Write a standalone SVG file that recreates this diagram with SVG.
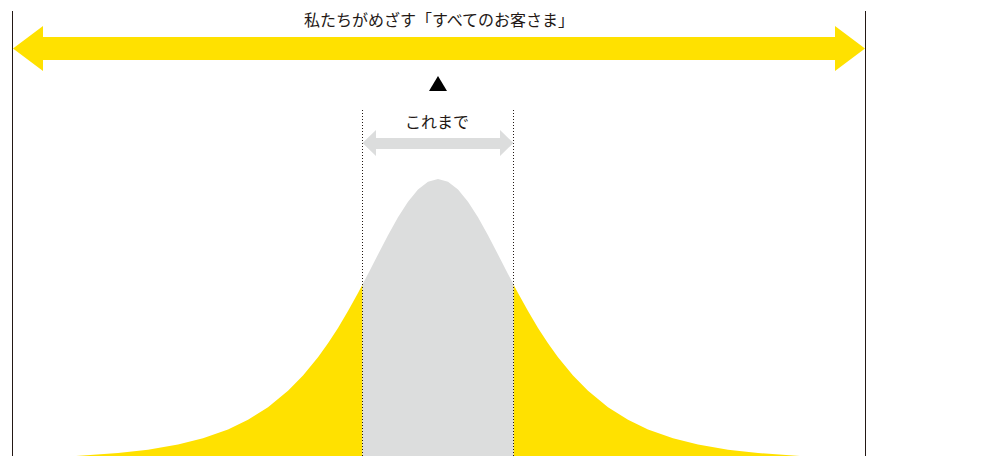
<svg xmlns="http://www.w3.org/2000/svg" width="1005" height="456" viewBox="0 0 1005 456">
<style>
.lbl{font-family:"Noto Sans CJK JP","Noto Sans",sans-serif;font-size:16px;fill:#231815;text-anchor:middle}
.frame{stroke:#231815;stroke-width:1;fill:none}
.dot{stroke:#231815;stroke-width:1;stroke-dasharray:1 2;fill:none}
</style>
<defs>
<path id="bell" d="M76,456 L118,453.08 L148,449.67 L178,444.51 L203,438.23 L228,429.38 L248,419.76 L268,407.18 L288,390.83 L303,375.55 L318,357.29 L328,343.32 L338,327.88 L348,311.03 L358,292.93 L368,273.9 L378,254.45 L388,235.28 L398,217.37 L408,201.67 L418,189.48 L428,181.66 L438,179 L448,181.66 L458,189.48 L468,201.67 L478,217.37 L488,235.28 L498,254.45 L508,273.9 L518,292.93 L528,311.03 L538,327.88 L548,343.32 L558,357.29 L573,375.55 L588,390.83 L608,407.18 L628,419.76 L648,429.38 L673,438.23 L698,444.51 L728,449.67 L758,453.08 L800,456 Z"/>
<clipPath id="mid"><rect x="362.5" y="0" width="151" height="456"/></clipPath>
<clipPath id="sides"><rect x="0" y="0" width="362.5" height="456"/><rect x="513.5" y="0" width="491.5" height="456"/></clipPath>
</defs>
<g id="curve-all">
<use href="#bell" fill="#FFE100" clip-path="url(#sides)"/>
</g>
<g id="curve-current">
<use href="#bell" fill="#DCDDDD" clip-path="url(#mid)"/>
</g>
<g id="connectors">
<line class="frame" x1="12.5" y1="11" x2="12.5" y2="456"/>
<line class="frame" x1="865.5" y1="11" x2="865.5" y2="456"/>
<line class="dot" x1="362.5" y1="110" x2="362.5" y2="456"/>
<line class="dot" x1="513.5" y1="110" x2="513.5" y2="456"/>
<polygon fill="#FFE100" points="13,48.5 43,26 43,37 835,37 835,26 865,48.5 835,71 835,60 43,60 43,71"/>
<polygon fill="#DCDDDD" points="362.5,143 376,130 376,138 500,138 500,130 513.5,143 500,156 500,149 376,149 376,156"/>
<polygon fill="#000" points="429,91 447,91 438,76"/>
</g>
<g id="label-all">
<text class="lbl" x="439" y="26">私たちがめざす「すべてのお客さま」</text>
</g>
<g id="label-current">
<text class="lbl" x="437" y="127.5">これまで</text>
</g>
</svg>
